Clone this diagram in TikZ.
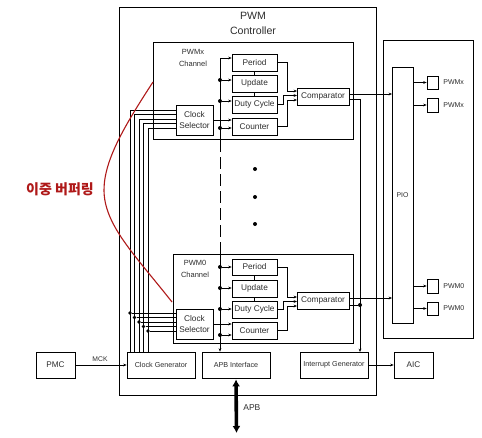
\documentclass[tikz,border=0pt]{standalone}
\usepackage{fontspec}
\setmainfont{Liberation Sans}
\newfontfamily\kr{Noto Sans CJK KR}
\usetikzlibrary{arrows.meta,calc}
\definecolor{txt}{RGB}{45,45,45}
\definecolor{redc}{RGB}{175,25,25}
\newcommand\bx[7][]{\node[box,#1,minimum width={(#5-#3)*1pt},minimum height={(#6-#4)*1pt}] (#2) at ({(#3+#5)/2},{(#4+#6)/2}) {#7};}
\begin{document}
\begin{tikzpicture}[x=1pt,y=-1pt,line width=0.75pt,
  box/.style={draw,inner sep=0pt,align=center,text=txt,font=\fontsize{8.3}{11}\selectfont},
  small/.style={font=\fontsize{7.2}{9}\selectfont},
  mid/.style={font=\fontsize{8.2}{10}\selectfont},
  lbl/.style={inner sep=0pt,align=center,text=txt,font=\fontsize{7.5}{12}\selectfont},
  tiny/.style={inner sep=0pt,text=txt,font=\fontsize{7}{9}\selectfont},
  arr/.style={-{Stealth[length=3.4pt,width=2.8pt]}},
  dot/.style={circle,fill,inner sep=0pt,minimum size=4pt},
  cdot/.style={circle,fill,inner sep=0pt,minimum size=3.6pt}]
\useasboundingbox (0,0) rectangle (482,437);

% controller frame
\bx{ctrl}{119}{7}{376}{395}{}
\node[inner sep=0pt,align=center,text=txt,font=\fontsize{10.6}{15}\selectfont] (title) at (253,23.5) {PWM\\Controller};

% channel frames
\bx{chx}{153}{42}{353}{139}{}
\node[lbl] (chxl) at (193,58) {PWMx\\Channel};
\bx{chz}{173}{254}{353}{343}{}
\node[lbl] (chzl) at (195,269) {PWM0\\Channel};

% top channel
\bx{perx}{232}{54}{277}{71}{Period}
\bx{updx}{232}{75}{277}{92}{Update}
\bx{dutx}{232}{96}{277}{113}{Duty Cycle}
\bx{cntx}{232}{118}{277}{135}{Counter}
\bx{cmpx}{297}{88}{349}{105}{Comparator}
\bx{csx}{176}{105}{213}{135}{Clock\\Selector}

% bottom channel
\bx{perz}{232}{259}{277}{275}{Period}
\bx{updz}{232}{280}{277}{297}{Update}
\bx{dutz}{232}{301}{277}{318}{Duty Cycle}
\bx{cntz}{232}{322}{277}{339}{Counter}
\bx{cmpz}{297}{292}{349}{309}{Comparator}
\bx{csz}{176}{309}{213}{339}{Clock\\Selector}

% bottom row
\bx[small]{cg}{127}{352}{195}{378}{Clock Generator}
\bx[small]{apb}{202}{352}{270}{378}{APB Interface}
\bx[small]{ig}{300}{352}{368}{378}{Interrupt Generator}
\bx[mid]{pmc}{36}{352}{75}{378}{PMC}
\bx[mid]{aic}{394}{352}{433}{378}{AIC}

% PIO region
\bx{pior}{383}{40}{473}{338}{}
\bx[font=\fontsize{6.9}{8}\selectfont]{pio}{392}{67}{413}{323}{PIO}
\bx{sq1}{427}{76}{438}{89}{}
\bx{sq2}{427}{98}{438}{112}{}
\bx{sq3}{427}{279}{438}{293}{}
\bx{sq4}{427}{302}{438}{315}{}
\node[tiny,anchor=west] (l1) at (443,82.5) {PWMx};
\node[tiny,anchor=west] (l2) at (443,105) {PWMx};
\node[tiny,anchor=west] (l3) at (443,286) {PWM0};
\node[tiny,anchor=west] (l4) at (443,308.5) {PWM0};
\foreach \s in {sq1,sq2,sq3,sq4} \draw[arr] (pio.east |- \s) -- (\s);

% register links
\draw (perx) -- (updx); \draw (updx) -- (dutx);
\draw (perz) -- (updz); \draw (updz) -- (dutz);

% bus
\coordinate (bt) at (220,58);
\coordinate (dA) at (220,140);
\coordinate (dB) at (220,254);
\draw (bt) -- (dA);
\draw[dash pattern=on 12pt off 5pt] (dA) -- (dB);
\draw[arr] (dB) -- (apb.north -| bt);
\draw[arr] (bt) -- (perx.west |- bt);
\node[dot] (b1) at (220,80) {};
\node[dot] (b2) at (220,101) {};
\node[dot] (b3) at (220,128) {};
\node[dot] (b4) at (220,267) {};
\node[dot] (b5) at (220,288) {};
\node[dot] (b6) at (220,309) {};
\node[dot] (b7) at (220,335) {};
\draw[arr] (b1) -- (updx.west |- b1);
\draw[arr] (b2) -- (dutx.west |- b2);
\draw[arr] (b3) -- (cntx.west |- b3);
\draw[arr] (b4) -- (perz.west |- b4);
\draw[arr] (b5) -- (updz.west |- b5);
\draw[arr] (b6) -- (dutz.west |- b6);
\draw[arr] (b7) -- (cntz.west |- b7);

% clock selector to counter
\draw[arr] (csx.east) -- (cntx.west |- csx.east);
\draw[arr] (csz.east) -- (cntz.west |- csz.east);

% comparator inputs
\coordinate (cx1) at (297,91);
\coordinate (cx2) at (297,95.5);
\coordinate (cx3) at (297,100);
\draw[arr] (perx.east) -- ++(10,0) |- (cx1);
\draw[arr] (dutx.east) -- ++(6,0) |- (cx2);
\draw[arr] (cntx.east) -- ++(10,0) |- (cx3);
\coordinate (cz1) at (297,297);
\coordinate (cz2) at (297,301.5);
\coordinate (cz3) at (297,306);
\draw[arr] (perz.east) -- ++(10,0) |- (cz1);
\draw[arr] (dutz.east) -- ++(6,0) |- (cz2);
\draw[arr] (cntz.east) -- ++(10,0) |- (cz3);

% comparator outputs
\coordinate (px1) at (392,94);
\coordinate (pz1) at (392,298);
\draw[arr] ([yshift=2.5pt]cmpx.east) -- (px1);
\draw[arr] ([yshift=2.5pt]cmpz.east) -- (pz1);
\coordinate (irq) at (360,352);
\draw[arr] ([yshift=-2.5pt]cmpx.east) -| (irq);
\node[dot] (dz) at (360,305) {};
\draw ([yshift=-4.5pt]cmpz.east) -- (dz);

% clock lines
\foreach \i/\x/\yt/\yb in {1/130/110/313,2/134.5/114.5/317.5,3/139/119/322,4/143.5/123.5/326.5,5/148/128/331}{
  \coordinate (ck\i) at (\x,\yt);
  \draw (cg.north -| ck\i) -- (ck\i) -- (csx.west |- ck\i);
  \node[cdot] (cd\i) at (\x,\yb) {};
  \draw (cd\i) -- (csz.west |- cd\i);
}

% middle dots
\node[dot] (v1) at (255,169) {};
\node[dot] (v2) at (255,197) {};
\node[dot] (v3) at (255,224) {};

% external links
\draw[arr] (pmc) -- (cg);
\node[tiny,font=\fontsize{6.8}{8}\selectfont] (mck) at (100,359.5) {MCK};
\draw[arr] (ig) -- (aic);
\coordinate (apbend) at (236.5,433);
\draw[line width=3.6pt,{Latex[length=7pt,width=8pt]}-{Latex[length=7pt,width=8pt]}] ([yshift=-1pt]apb.south) -- (apbend);
\node[tiny,anchor=west,font=\fontsize{8.5}{10}\selectfont] (apbl) at (243,408) {APB};

% annotation
\coordinate (r1) at (153,82);
\coordinate (r2) at (104,190);
\coordinate (r3) at (172,302);
\draw[redc,line width=1.1pt] (r1) .. controls (125,125) and (104,160) .. (r2) .. controls (104,225) and (135,255) .. (r3);
\node[inner sep=0pt,text=redc,font=\kr\bfseries\fontsize{14}{16}\selectfont] (note) at (60,189) {이중 버퍼링};
\end{tikzpicture}
\end{document}
